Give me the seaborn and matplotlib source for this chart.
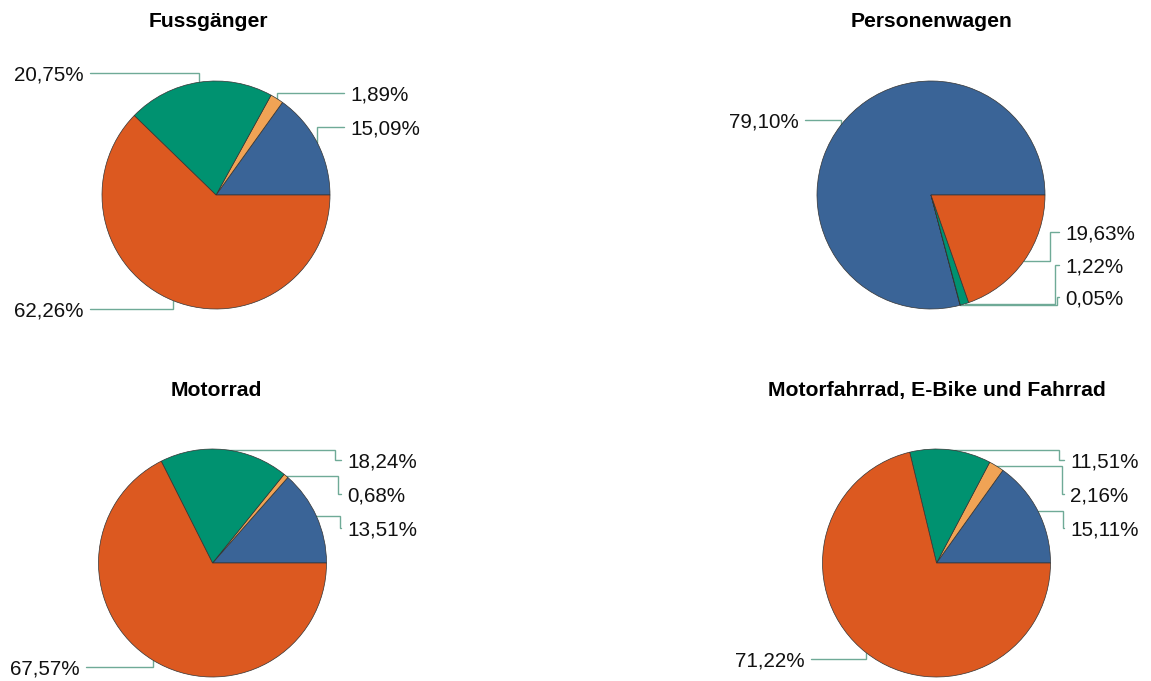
import numpy as np
import matplotlib
matplotlib.use("Agg")
import matplotlib.pyplot as plt
import seaborn as sns

# ---------------- data ----------------
titles = ["Fussgänger", "Personenwagen", "Motorrad", "Motorfahrrad, E-Bike und Fahrrad"]
slice_order = ["Segment A", "Segment B", "Segment C", "Segment D"]
fussgaenger = [15.09, 1.89, 20.75, 62.26]
personenwagen = [79.10, 0.05, 1.22, 19.63]
motorrad = [13.51, 0.68, 18.24, 67.57]
motorfahrrad = [15.11, 2.16, 11.51, 71.22]
series = [fussgaenger, personenwagen, motorrad, motorfahrrad]
colors = ["#3a6497", "#f0a355", "#009270", "#dc5920"]

# ---------------- layout (pixels, y downwards) ----------------
W, H = 1151, 681
centers = [(216, 195), (931, 195), (212.5, 563), (936.5, 563)]
radius = 114
title_pos = [(208.5, 27), (932, 27), (216, 396), (936.5, 396)]
label_y = [[127, 93, 73, 309], [120, 297, 265, 232], [528, 494, 460, 667], [528, 494, 460, 659]]
elbow_x = [[None, None, None, None], [None, 1057, 1055, 1050],
           [340, 338, 335, None], [1063, 1062, 1059, None]]
right_label_x = [350, 1065, 347, 1070]
left_label_x = [84, 799, 80, 805]
gap = 6
label_size = 14.9
title_size = 15.2
leader_color = "#6faa97"

sns.set_theme(style="white")
plt.rcParams["font.family"] = ["Liberation Sans", "DejaVu Sans"]

fig = plt.figure(figsize=(W / 100, H / 100), dpi=100)
ax = fig.add_axes([0, 0, 1, 1])


def fy(y):
    return H - y


px_per_pt = 100 / 72.0
for i, vals in enumerate(series):
    cx, cy = centers[i]
    wedges, _ = ax.pie(vals, colors=sns.color_palette(colors), center=(cx, fy(cy)),
                       radius=radius, startangle=0, counterclock=True,
                       wedgeprops=dict(edgecolor="#333333", linewidth=0.5))
    tx, ty = title_pos[i]
    ax.text(tx, fy(ty), titles[i], ha="center", va="baseline",
            fontsize=title_size, fontweight="bold", color="black")
    for j, (w, v) in enumerate(zip(wedges, vals)):
        mid = np.deg2rad((w.theta1 + w.theta2) / 2)
        px = cx + radius * np.cos(mid)
        py = cy - radius * np.sin(mid)
        ly = label_y[i][j]
        right = np.cos(mid) >= 0
        ex = elbow_x[i][j] if elbow_x[i][j] is not None else px
        if right:
            lx = right_label_x[i]
            xend = lx - gap
            ha = "left"
        else:
            lx = left_label_x[i]
            xend = lx + gap
            ha = "right"
        xs = [px, ex, ex, xend]
        ys = [py, py, ly, ly]
        ax.plot(xs, [fy(y) for y in ys], color=leader_color, lw=1.0,
                solid_joinstyle="miter", zorder=0)
        txt = f"{v:.2f}".replace(".", ",") + "%"
        base = ly + 0.358 * label_size * px_per_pt
        ax.text(lx, fy(base), txt, ha=ha, va="baseline",
                fontsize=label_size, color="#111111")

ax.set_xlim(0, W)
ax.set_ylim(0, H)
ax.set_aspect("auto")
ax.axis("off")
fig.savefig("out.png", dpi=100, facecolor="white")
